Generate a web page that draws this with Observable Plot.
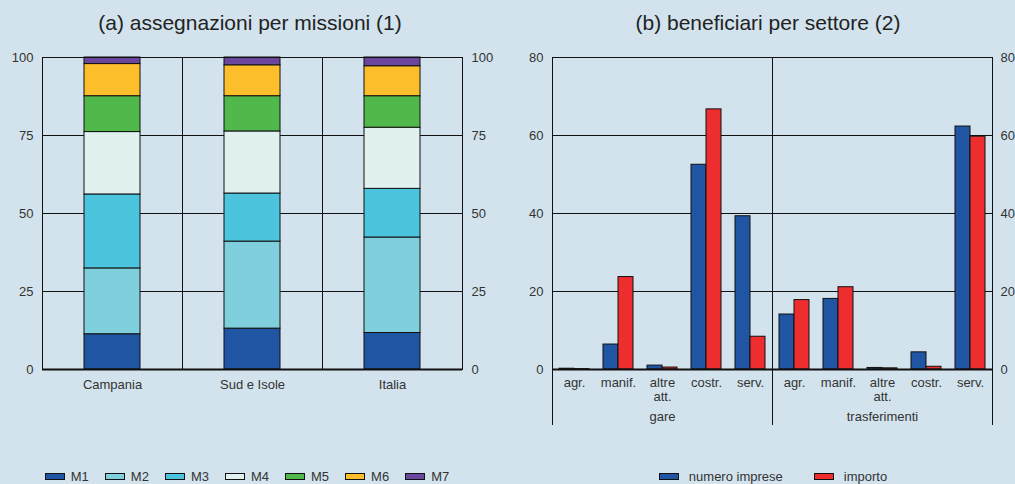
<!DOCTYPE html>
<html>
<head>
<meta charset="utf-8">
<script src="https://cdn.jsdelivr.net/npm/d3@7"></script>
<script src="https://cdn.jsdelivr.net/npm/@observablehq/plot@0.6"></script>
<style>
  html, body { margin: 0; padding: 0; background: #d2e3ed; }
  #chart { position: relative; width: 1015px; height: 484px; overflow: hidden; background: #d2e3ed;
    font-family: "Liberation Sans", Arial, sans-serif; color: #333; }
  .title { position: absolute; top: 11px; font-size: 21px; line-height: 24px; color: #222; text-align: center; white-space: nowrap; }
  .panel { position: absolute; top: 40px; }
  .legend { position: absolute; top: 468px; height: 16px; display: flex; justify-content: center; align-items: center; font-size: 13px; color: #333; }
  .legend .item { display: flex; align-items: center; }
  .legend .sw { box-sizing: border-box; width: 20px; height: 7px; border: 1px solid #111; display: inline-block; }
</style>
</head>
<body>
<div id="chart">
  <div class="title" style="left:0;width:500px;">(a) assegnazioni per missioni (1)</div>
  <div class="title" style="left:500px;width:536px;">(b) beneficiari per settore (2)</div>
  <div id="left" class="panel" style="left:0;"></div>
  <div id="right" class="panel" style="left:500px;"></div>
  <div id="legL" class="legend" style="left:0;width:494px;gap:16px;"></div>
  <div id="legR" class="legend" style="left:546px;width:454px;gap:31px;"></div>
</div>
<script>
// ---- Panel (a) data ----
const regions = ["Campania", "Sud e Isole", "Italia"];
const missions = ["M1", "M2", "M3", "M4", "M5", "M6", "M7"];
const missionColors = ["#1f55a3", "#7fcfdc", "#4cc4de", "#e0f1f0", "#51b84b", "#fdbe2b", "#6a479d"];
const campania = [11.3, 21.1, 23.7, 20.0, 11.5, 10.3, 2.1];
const sudIsole = [13.1, 27.9, 15.4, 19.9, 11.3, 9.9, 2.5];
const italia = [11.7, 30.6, 15.6, 19.6, 10.1, 9.6, 2.8];
const leftTicks = [0, 25, 50, 75, 100];

// ---- Panel (b) data ----
const groups = ["gare", "trasferimenti"];
const sectors = ["agr.", "manif.", "altre att.", "costr.", "serv."];
const seriesNames = ["numero imprese", "importo"];
const seriesColors = ["#1f55a3", "#ee2d2e"];
const gareImprese = [0.2, 6.4, 1.0, 52.5, 39.3];
const gareImporto = [0.1, 23.7, 0.5, 66.7, 8.4];
const trasfImprese = [14.1, 18.1, 0.4, 4.4, 62.3];
const trasfImporto = [17.8, 21.1, 0.3, 0.7, 59.7];
const rightTicks = [0, 20, 40, 60, 80];

const font = '"Liberation Sans", Arial, sans-serif';

// build table for (a)
const regionValues = [campania, sudIsole, italia];
const stackRows = [];
regions.forEach((r, i) => missions.forEach((m, j) => stackRows.push({region: r, mission: m, value: regionValues[i][j]})));

const left = Plot.plot({
  width: 500, height: 354,
  marginLeft: 41, marginRight: 37, marginTop: 17, marginBottom: 25,
  style: {fontFamily: font, fontSize: "13px", color: "#333", background: "transparent", overflow: "visible"},
  fx: {domain: regions, padding: 0},
  x: {axis: null, paddingInner: 0, paddingOuter: 0.75},
  y: {domain: [0, 100]},
  color: {domain: missions, range: missionColors},
  marks: [
    Plot.gridY([25, 50, 75], {stroke: "#111", strokeOpacity: 1}),
    Plot.barY(stackRows, {fx: "region", x: () => "bar", y: "value", fill: "mission", stroke: "#111", strokeWidth: 1}),
    Plot.frame({stroke: "#111"}),
    Plot.ruleY([0], {stroke: "#111", strokeWidth: 2}),
    Plot.axisFx({anchor: "bottom", tickSize: 0, tickPadding: 10, label: null}),
    Plot.axisY(leftTicks, {anchor: "left", tickSize: 0, tickPadding: 9, label: null}),
    Plot.axisY(leftTicks, {anchor: "right", tickSize: 0, tickPadding: 9, label: null})
  ]
});
document.getElementById("left").appendChild(left);

// build table for (b)
const groupValues = {gare: [gareImprese, gareImporto], trasferimenti: [trasfImprese, trasfImporto]};
const barRows = [];
groups.forEach(g => sectors.forEach((s, k) => barRows.push({group: g, sector: s, imprese: groupValues[g][0][k], importo: groupValues[g][1][k]})));
const groupLabels = groups.map(g => ({group: g}));

const right = Plot.plot({
  width: 515, height: 400,
  marginLeft: 52, marginRight: 23, marginTop: 17, marginBottom: 71,
  style: {fontFamily: font, fontSize: "13px", color: "#333", background: "transparent", overflow: "visible"},
  fx: {domain: groups, padding: 0, axis: null},
  x: {domain: sectors, paddingInner: 0.32, paddingOuter: 0.16},
  y: {domain: [0, 80]},
  marks: [
    Plot.gridY([20, 40, 60], {stroke: "#111", strokeOpacity: 1}),
    Plot.barY(barRows, {fx: "group", x: "sector", y: "imprese", fill: seriesColors[0], stroke: "#111", strokeWidth: 1, insetRight: 15}),
    Plot.barY(barRows, {fx: "group", x: "sector", y: "importo", fill: seriesColors[1], stroke: "#111", strokeWidth: 1, insetLeft: 15}),
    Plot.frame({anchor: "top", stroke: "#111"}),
    Plot.frame({anchor: "left", stroke: "#111", insetBottom: -55}),
    Plot.frame({anchor: "right", stroke: "#111", insetBottom: -55}),
    Plot.ruleY([0], {stroke: "#111", strokeWidth: 2}),
    Plot.axisX({anchor: "bottom", tickSize: 0, tickPadding: 7, label: null, lineHeight: 1.1,
      tickFormat: d => d.replace(" ", "\n")}),
    Plot.axisY(rightTicks, {anchor: "left", tickSize: 0, tickPadding: 9, label: null}),
    Plot.axisY(rightTicks, {anchor: "right", tickSize: 0, tickPadding: 8, label: null}),
    Plot.text(groupLabels, {fx: "group", text: "group", frameAnchor: "bottom", dy: 51, fill: "#333"})
  ]
});
document.getElementById("right").appendChild(right);

// legends
function legend(el, names, colors, labelGap) {
  names.forEach((n, i) => {
    const item = document.createElement("div");
    item.className = "item";
    const sw = document.createElement("span");
    sw.className = "sw";
    sw.style.background = colors[i];
    sw.style.marginRight = labelGap + "px";
    const lab = document.createElement("span");
    lab.textContent = n;
    item.appendChild(sw); item.appendChild(lab);
    el.appendChild(item);
  });
}
legend(document.getElementById("legL"), missions, missionColors, 6);
legend(document.getElementById("legR"), seriesNames, seriesColors, 10);
</script>
</body>
</html>
